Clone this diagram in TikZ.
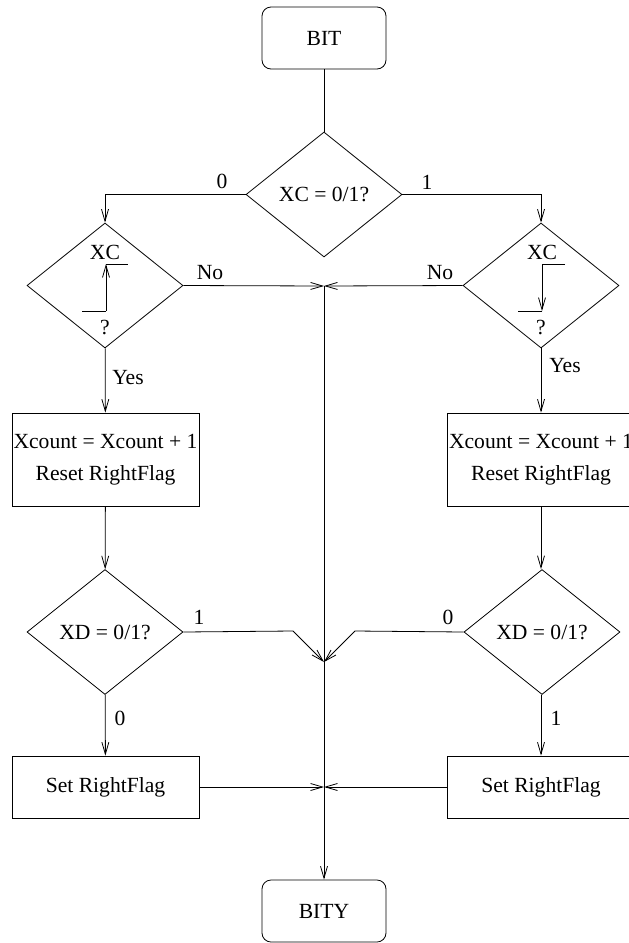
\documentclass[tikz,border=0pt]{standalone}
\usepackage{fontspec}
\setmainfont{Liberation Serif}
\usetikzlibrary{arrows.meta}
\usetikzlibrary{shapes.geometric}

\begin{document}
\begin{tikzpicture}[x=1pt,y=-1pt,>={Straight Barb[length=12pt,width=7pt]},line width=0.8pt,
    every node/.style={font=\fontsize{21.6}{26}\selectfont},
    terminal/.style={draw,rounded corners=9pt,minimum width=124pt,minimum height=62pt,inner sep=0pt},
    decision/.style={draw,diamond,minimum width=156pt,minimum height=125pt,inner sep=0pt},
    process/.style={draw,minimum width=187pt,inner sep=0pt,align=center,font=\fontsize{21.6}{32}\selectfont}]
        \useasboundingbox (0,0) rectangle (629,943);
        % boxes and decisions
        \node [terminal] (bit) at (324,38) {BIT};
        \node [decision] (xc) at (324,194.5) {XC = 0/1?};
        \node [decision] (risel) at (105,285.5) {};
        \node [decision] (riser) at (541,285.5) {};
        \node [process,minimum height=93pt] (countl) at (105.5,459.5) {Xcount = Xcount + 1\\Reset RightFlag};
        \node [process,minimum height=93pt] (countr) at (541,459.5) {Xcount = Xcount + 1\\Reset RightFlag};
        \node [decision] (xdl) at (105,632) {XD = 0/1?};
        \node [decision] (xdr) at (542,632) {XD = 0/1?};
        \node [process,minimum height=62pt] (setl) at (105.5,787) {Set RightFlag};
        \node [process,minimum height=62pt] (setr) at (541,787) {Set RightFlag};
        \node [terminal] (bity) at (324,911) {BITY};
        % texts inside the small decisions
        \node (xcl) at (105,252) {XC};
        \node (qul) at (105,327) {?};
        \node (xcr) at (542,252) {XC};
        \node (qur) at (541,327) {?};
        % edges of XC
        \draw (82,311) -- (106,311);
        \draw [->] (106,311) -- (106,264);
        \draw (106,264) -- (128,264);
        \draw (565,264) -- (542,264);
        \draw [->] (542,264) -- (542,311);
        \draw (542,311) -- (518,311);
        % meeting points
        \coordinate (j1) at (324,286);
        \coordinate (j2) at (324,662);
        \coordinate (j3) at (324,787);
        \coordinate (bl) at (293,631);
        \coordinate (br) at (355,631);
        % flow
        \draw (bit) -- (xc);
        \draw [->] (xc.west) -| (risel.north);
        \draw [->] (xc.east) -| (riser.north);
        \draw [->] (risel.east) -- (j1);
        \draw [->] (riser.west) -- (j1);
        \draw [->] (j1) -- (bity);
        \draw [->] (risel) -- (countl);
        \draw [->] (riser) -- (countr);
        \draw [->] (countl) -- (xdl);
        \draw [->] (countr) -- (countr |- xdr.north);
        \draw [->] (xdl.east) -- (bl) -- (j2);
        \draw [->] (xdr.west) -- (br) -- (j2);
        \draw [->] (xdl) -- (setl);
        \draw [->] (xdr.south -| setr) -- (setr);
        \draw [->] (setl) -- (j3);
        \draw [->] (setr) -- (j3);
        % labels
        \node (l0) at (222,181) {0};
        \node (l1) at (427,182) {1};
        \node (nol) at (210,273) {No};
        \node (nor) at (440,273) {No};
        \node (yesl) at (128,378) {Yes};
        \node (yesr) at (565,366) {Yes};
        \node (xdl1) at (199,617) {1};
        \node (xdr0) at (448,617) {0};
        \node (xdl0) at (120,718) {0};
        \node (xdr1) at (556,718) {1};
    \end{tikzpicture}
\end{document}
